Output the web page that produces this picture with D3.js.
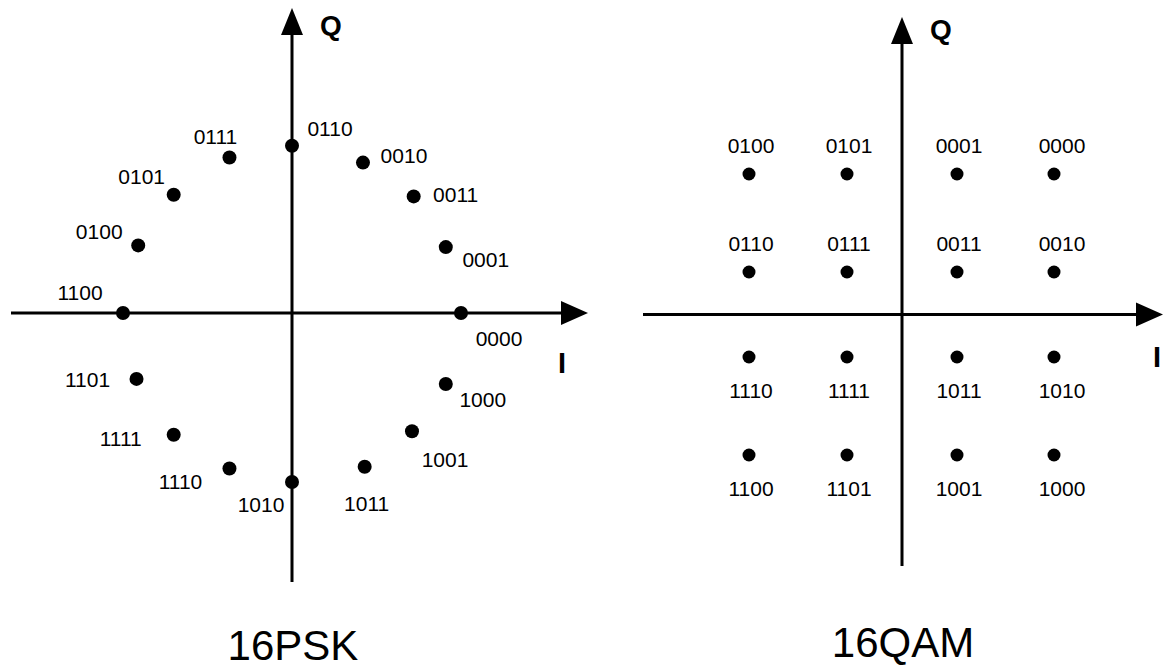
<!DOCTYPE html>
<html>
<head>
<meta charset="utf-8">
<script src="https://cdn.jsdelivr.net/npm/d3@7"></script>
<style>
  body { margin: 0; background: #fff; }
  svg text { font-family: "Liberation Sans", Arial, sans-serif; fill: #000; }
</style>
</head>
<body>
<svg id="chart" width="1166" height="668"></svg>
<script>
// 16PSK constellation: bit labels with I/Q (radius = 1)
var pskLabels = ["1100","0100","0101","0111","0110","0010","0011","0001",
                 "0000","1000","1001","1011","1010","1110","1111","1101"];
var pskI = [-1.00,-0.91,-0.70,-0.37, 0.00, 0.42, 0.72, 0.91,
             1.00, 0.91, 0.71, 0.43, 0.00,-0.37,-0.70,-0.92];
var pskQ = [ 0.00, 0.40, 0.70, 0.92, 0.99, 0.89, 0.69, 0.39,
             0.00,-0.42,-0.70,-0.91,-1.00,-0.92,-0.72,-0.39];

// 16QAM constellation
var qamLabels = ["0100","0101","0001","0000",
                 "0110","0111","0011","0010",
                 "1110","1111","1011","1010",
                 "1100","1101","1001","1000"];
var qamI = [-3,-1,1,3, -3,-1,1,3, -3,-1,1,3, -3,-1,1,3];
var qamQ = [ 3, 3,3,3,  1, 1,1,1, -1,-1,-1,-1, -3,-3,-3,-3];

var titles = ["16PSK", "16QAM"];

// hand placed label offsets for the PSK points (px from the dot)
var pskOffset = [[-43,-13],[-39,-6],[-32,-11],[-14,-14],[38,-10],[41,0],[42,6],[40,20],
                 [38,33],[37,23],[33,36],[2,44],[-31,30],[-49,21],[-53,11],[-49,8]];

var svg = d3.select("#chart");

function arrowAxes(g, cx, cy, x0, x1, y0, y1) {
  g.append("line").attr("x1", x0).attr("x2", x1 - 20).attr("y1", cy).attr("y2", cy)
    .attr("stroke", "#000").attr("stroke-width", 3);
  g.append("path").attr("d", "M" + x1 + "," + cy + "L" + (x1 - 27) + "," + (cy - 12) +
      "L" + (x1 - 27) + "," + (cy + 12) + "Z").attr("fill", "#000");
  g.append("line").attr("x1", cx).attr("x2", cx).attr("y1", y0).attr("y2", y1 + 20)
    .attr("stroke", "#000").attr("stroke-width", 3);
  g.append("path").attr("d", "M" + cx + "," + y1 + "L" + (cx - 11) + "," + (y1 + 27) +
      "L" + (cx + 11) + "," + (y1 + 27) + "Z").attr("fill", "#000");
}

// ---------- 16PSK ----------
var xp = d3.scaleLinear().domain([-1, 1]).range([123, 461]);
var yp = d3.scaleLinear().domain([-1, 1]).range([482, 144]);
var psk = pskLabels.map(function(d, i) { return {label: d, I: pskI[i], Q: pskQ[i], off: pskOffset[i]}; });

var gp = svg.append("g");
arrowAxes(gp, xp(0), yp(0), 11, 588, 582, 8);

gp.selectAll("circle").data(psk).enter().append("circle")
  .attr("cx", function(d) { return xp(d.I); })
  .attr("cy", function(d) { return yp(d.Q); })
  .attr("r", 7).attr("fill", "#000");

gp.selectAll("text.lab").data(psk).enter().append("text")
  .attr("class", "lab")
  .attr("x", function(d) { return xp(d.I) + d.off[0]; })
  .attr("y", function(d) { return yp(d.Q) + d.off[1]; })
  .attr("text-anchor", "middle")
  .style("font-size", "21px")
  .text(function(d) { return d.label; });

gp.append("text").attr("x", 320).attr("y", 35).style("font-size", "28px")
  .style("font-weight", "bold").text("Q");
gp.append("text").attr("x", 558).attr("y", 373).style("font-size", "29px")
  .style("font-weight", "bold").text("I");
gp.append("text").attr("x", 293).attr("y", 660).attr("text-anchor", "middle")
  .style("font-size", "42px").text(titles[0]);

// ---------- 16QAM ----------
var xq = d3.scaleLinear().domain([-3, -1, 1, 3]).range([749, 847, 957, 1054]);
var yq = d3.scaleLinear().domain([-3, -1, 1, 3]).range([455, 357, 272, 174]);
var qam = qamLabels.map(function(d, i) { return {label: d, I: qamI[i], Q: qamQ[i]}; });

var gq = svg.append("g");
arrowAxes(gq, xq(0), yq(0), 643, 1163, 566, 17);

gq.selectAll("circle").data(qam).enter().append("circle")
  .attr("cx", function(d) { return xq(d.I); })
  .attr("cy", function(d) { return yq(d.Q); })
  .attr("r", 6.5).attr("fill", "#000");

gq.selectAll("text.lab").data(qam).enter().append("text")
  .attr("class", "lab")
  .attr("x", function(d) { return xq(d.I) + (d.I === 3 ? 8 : 2); })
  .attr("y", function(d) { return yq(d.Q) + (d.Q > 0 ? -21 : 41); })
  .attr("text-anchor", "middle")
  .style("font-size", "21px")
  .text(function(d) { return d.label; });

gq.append("text").attr("x", 930).attr("y", 39).style("font-size", "28px")
  .style("font-weight", "bold").text("Q");
gq.append("text").attr("x", 1153).attr("y", 367).style("font-size", "29px")
  .style("font-weight", "bold").text("I");
gq.append("text").attr("x", 903).attr("y", 657).attr("text-anchor", "middle")
  .style("font-size", "42px").text(titles[1]);
</script>
</body>
</html>
